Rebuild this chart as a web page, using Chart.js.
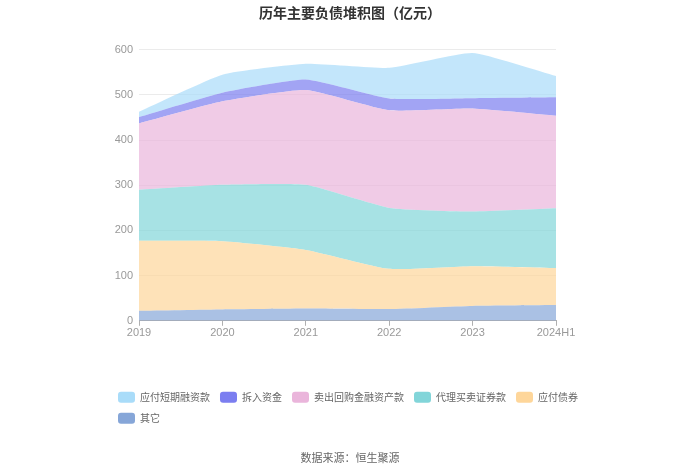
<!DOCTYPE html>
<html>
<head>
<meta charset="utf-8">
<script src="https://cdn.jsdelivr.net/npm/chart.js@4.4.1/dist/chart.umd.min.js"></script>
<style>
  html, body { margin: 0; padding: 0; background: #fff; }
  #wrap { width: 700px; height: 474px; }
</style>
</head>
<body>
<div id="wrap"><canvas id="liabilities"></canvas></div>
<script>
const years = ["2019", "2020", "2021", "2022", "2023", "2024H1"];

// stacked bottom-up
const other_vals      = [22, 25, 27, 26, 33, 35];
const bonds_vals      = [155, 151, 130, 89, 88, 82];
const agency_vals     = [113, 125, 144, 135, 121, 132];
const repo_vals       = [147, 185, 210, 216, 228, 205];
const borrowed_vals   = [14, 19, 23, 26, 23, 41];
const shortterm_vals  = [12, 40, 35, 68, 100, 47];

const y_ticks_max = 600;
const y_ticks_step = 100;

const series = [
    {name: "其它",             values: other_vals,     color: "#86a6d8"},
    {name: "应付债券",         values: bonds_vals,     color: "#fed69a"},
    {name: "代理买卖证券款",   values: agency_vals,    color: "#82d5d9"},
    {name: "卖出回购金融资产款", values: repo_vals,    color: "#eab5db"},
    {name: "拆入资金",         values: borrowed_vals,  color: "#7b7ef0"},
    {name: "应付短期融资款",   values: shortterm_vals, color: "#a9dcf9"}
];

function withAlpha(hex, a) {
    const r = parseInt(hex.slice(1, 3), 16);
    const g = parseInt(hex.slice(3, 5), 16);
    const b = parseInt(hex.slice(5, 7), 16);
    return `rgba(${r},${g},${b},${a})`;
}

const datasets = series.map((s, i) => ({
    label: s.name,
    data: s.values,
    backgroundColor: withAlpha(s.color, 0.7),
    borderWidth: 0,
    pointRadius: 0,
    tension: 0.15,
    fill: i == 0 ? 'origin' : '-1',
    solidColor: s.color
}));

new Chart("liabilities", {
    type: "line",
    data: { labels: years, datasets: datasets },
    options: {
        responsive: true,
        maintainAspectRatio: false,
        animation: false,
        layout: { padding: { left: 108, right: 108, top: 4, bottom: 10 } },
        plugins: {
            title: {
                display: true,
                text: "历年主要负债堆积图（亿元）",
                color: "#333",
                font: { size: 14, weight: "bold", family: "'Noto Sans CJK SC', sans-serif" },
                padding: { top: 0, bottom: 29 }
            },
            subtitle: {
                display: true,
                position: "bottom",
                text: "数据来源：恒生聚源",
                color: "#666",
                font: { size: 11, family: "'Noto Sans CJK SC', sans-serif" },
                padding: { top: 17, bottom: 0 }
            },
            legend: {
                position: "bottom",
                align: "start",
                reverse: true,
                labels: {
                    boxWidth: 17,
                    boxHeight: 11,
                    padding: 10,
                    color: "#666",
                    useBorderRadius: true,
                    borderRadius: 3,
                    font: { size: 10, family: "'Noto Sans CJK SC', sans-serif" },
                    generateLabels: (chart) => {
                        const items = Chart.defaults.plugins.legend.labels.generateLabels(chart);
                        items.forEach(item => {
                            const c = chart.data.datasets[item.datasetIndex].solidColor;
                            item.fillStyle = c;
                            item.strokeStyle = c;
                            item.lineWidth = 0;
                        });
                        return items;
                    }
                }
            },
            tooltip: { enabled: false }
        },
        scales: {
            x: {
                offset: false,
                grid: { display: true, drawOnChartArea: false, drawTicks: true, tickLength: 5, color: "#b0b0b0" },
                border: { display: true, color: "#b0b0b0" },
                ticks: { color: "#999", font: { size: 11 }, padding: 1, maxRotation: 0 },
                afterFit: (s) => { s.height = 61; }
            },
            y: {
                stacked: true,
                min: 0,
                max: y_ticks_max,
                ticks: { stepSize: y_ticks_step, color: "#999", font: { size: 11 }, padding: 6 },
                grid: { color: "#ebebeb", drawTicks: false },
                border: { display: false },
                afterFit: (s) => { s.width = 31; }
            },
            spacer: {
                position: "right",
                display: true,
                grid: { display: false },
                border: { display: false },
                ticks: { display: false },
                afterFit: (s) => { s.width = 36; }
            }
        }
    }
});
</script>
</body>
</html>
